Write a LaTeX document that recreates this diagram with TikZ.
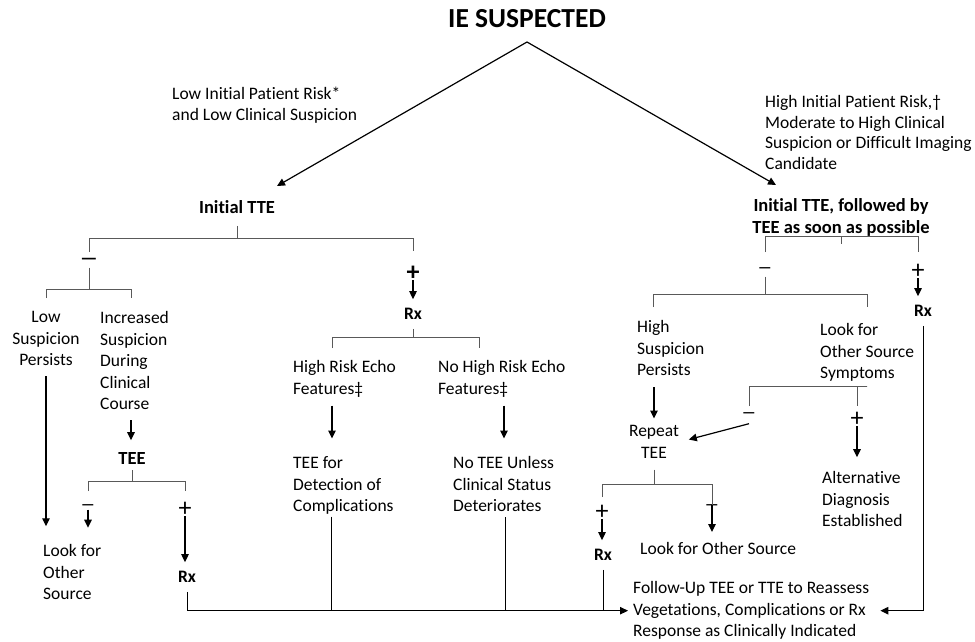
\documentclass[tikz,border=0pt]{standalone}
\usepackage{fontspec}
\setmainfont{Carlito}[Ligatures=NoCommon]
\usetikzlibrary{arrows.meta}

\begin{document}
\begin{tikzpicture}[
    x=1pt, y=-1pt,
    mytext/.style={
        font=\fontsize{17.5}{21.5}\selectfont,
        inner sep=0pt,
        align=left
    },
    myhead/.style={
        font=\fontsize{18.5}{22.5}\selectfont\bfseries,
        inner sep=0pt,
        align=center
    },
    myrx/.style={
        font=\fontsize{17.5}{21}\selectfont\bfseries,
        inner xsep=0pt,
        inner ysep=9pt
    },
    mysign/.style={
        font=\fontsize{26}{26}\selectfont,
        inner sep=0pt,
        text height=18pt,
        text depth=0pt
    },
    myminus/.style={
        font=\fontsize{15}{15}\selectfont\bfseries,
        inner sep=0pt,
        text height=9pt,
        text depth=0pt
    },
    myarrow/.style={
        -{Triangle[length=8pt,width=7.5pt]},
        line width=1.2pt
    },
    mybracket/.style={
        line width=0.8pt,
        draw=black!65
    },
    myline/.style={
        line width=1pt
    }
]
\useasboundingbox (0,0) rectangle (975,641);

% top
\node (title) [font=\fontsize{27.5}{30}\selectfont\bfseries, inner sep=0pt] at (527,18.5) {IE SUSPECTED};
\coordinate (apex) at (527,42);
\node (lowrisk) [mytext, anchor=north west] at (172,86.5) {Low Initial Patient Risk*\\and Low Clinical Suspicion};
\node (highrisk) [mytext, font=\fontsize{17.5}{20.5}\selectfont, anchor=north west] at (765,95.5) {High Initial Patient Risk,†\\Moderate to High Clinical\\Suspicion or Difficult Imaging\\Candidate};
\node (ltte) [myhead] at (237,207) {Initial TTE};
\node (rtte) [myhead, anchor=north] at (841,198) {Initial TTE, followed by\\TEE as soon as possible};
\coordinate (lend) at (277,186);
\coordinate (rend) at (776,185);
\draw [myarrow] (apex) -- (lend);
\draw [myarrow] (apex) -- (rend);

% left branch
\node (lneg) [myminus, font=\fontsize{19}{19}\selectfont\bfseries] at (89,260) {—};
\node (lpos) [mysign, font=\fontsize{26}{26}\selectfont\bfseries] at (413,271) {+};
\node (lrx) [myrx] at (413,314) {Rx};
\draw [mybracket] (ltte.south) ++(0,12) -- ++(0,13) coordinate (ltop);
\draw [mybracket] (lneg |- 0,252) |- (ltop) -| (lpos |- 0,251);
\draw [myarrow] (lpos) -- (lrx);

\node (lowsusp) [mytext, align=center, anchor=north] at (46,311.5) {Low\\Suspicion\\Persists};
\node (incsusp) [mytext, anchor=north west] at (100,311.5) {Increased\\Suspicion\\During\\Clinical\\Course};
\draw [mybracket] (lneg.south) ++(0,3) -- ++(0,22) coordinate (ntop);
\draw [mybracket] (lowsusp.north |- 0,298) |- (ntop) -| (131,298);
\draw [myarrow] (lowsusp.south) ++(0,10) -- ++(0,150);
\draw [myarrow] (incsusp.south -| 131,0) ++(0,10) -- ++(0,20);

\node (tee) [myhead] at (132,458) {TEE};
\node (teeneg) [myminus] at (88,505) {—};
\node (teepos) [mysign] at (185,507) {+};
\node (teerx) [myrx] at (187,577) {Rx};
\node (lookleft) [mytext, anchor=north west] at (43,544.5) {Look for\\Other\\Source};
\draw [mybracket] (tee.south) ++(0,6) -- ++(0,11) coordinate (ttop);
\draw [mybracket] (teeneg |- 0,491) |- (ttop) -| (teepos |- 0,491);
\draw [myarrow] (teeneg.south) -- ++(0,18);
\draw [myarrow] (teepos) -- (teepos |- teerx.north);

% echo features
\node (hiecho) [mytext, anchor=north west] at (293,360.5) {High Risk Echo\\Features‡};
\node (noecho) [mytext, anchor=north west] at (438,360.5) {No High Risk Echo\\Features‡};
\node (teefor) [mytext, anchor=north west] at (293,456.5) {TEE for\\Detection of\\Complications};
\node (noteeunless) [mytext, anchor=north west] at (453,456.5) {No TEE Unless\\Clinical Status\\Deteriorates};
\draw [mybracket] (lrx.south) -- ++(0,9) coordinate (rxtop);
\draw [mybracket] (332,348) |- (rxtop) -| (479,348);
\draw [myarrow] (hiecho.south -| 332,0) ++(0,8) -- ++(0,33);
\draw [myarrow] (noecho.south -| 504,0) ++(0,8) -- ++(0,33);

% right branch
\node (rneg) [myminus] at (765,268) {—};
\node (rpos) [mysign] at (918,269) {+};
\node (rrx) [myrx] at (923,311) {Rx};
\draw [mybracket] (rneg |- 0,252) |- (rtte.south) -| (rpos |- 0,252);
\draw [mybracket] (rtte.south) -- ++(0,7);
\draw [myarrow] (rpos) -- (rpos |- rrx.north);

\node (hisusp) [mytext, anchor=north west] at (637,320.5) {High\\Suspicion\\Persists};
\node (lookother) [mytext, anchor=north west] at (820,323.5) {Look for\\Other Source\\Symptoms};
\draw [mybracket] (rneg.south) ++(0,4) -- ++(0,18) coordinate (rntop);
\draw [mybracket] (653,307) |- (rntop) -| (867,307);

\node (repeat) [mytext, align=center, anchor=north] at (654,425.5) {Repeat\\TEE};
\draw [myarrow, shorten >=7pt] (hisusp.south -| repeat.north) ++(0,11) -- (repeat.north);

\node (oneg) [myminus] at (749,413) {—};
\node (opos) [mysign] at (857,417) {+};
\node (altdx) [mytext, anchor=north west] at (822,471.5) {Alternative\\Diagnosis\\Established};
\draw [mybracket] (oneg |- 0,406) |- ([yshift=-5pt]lookother.south) -| (opos |- 0,406);
\draw [myarrow, shorten >=10pt] ([yshift=-6pt]oneg.south) -- (repeat.east);
\draw [myarrow] (opos.south) -- ++(0,31);

\node (rpos2) [mysign] at (602,510) {+};
\node (rneg2) [myminus] at (712,505) {—};
\node (rrx2) [myrx] at (603,555) {Rx};
\node (lookright) [mytext, anchor=west] at (640,548) {Look for Other Source};
\draw [mybracket] (repeat.south) ++(0,11) -- ++(0,15) coordinate (reptop);
\draw [mybracket] (rpos2 |- 0,497) |- (reptop) -| (rneg2.center);
\draw [myarrow] (rneg2.center) -- ++(0,27);
\draw [myarrow] (rpos2) -- (rpos2 |- rrx2.north);

% follow-up
\node (followup) [mytext, anchor=north west] at (633,581.5) {Follow-Up TEE or TTE to Reassess\\Vegetations, Complications or Rx\\Response as Clinically Indicated};
\coordinate (rail) at (followup.west);
\draw [myarrow, line width=1pt] (teerx.south) |- ([xshift=-5pt]rail);
\draw [myline] (teefor.south -| 331,0) ++(0,2) -- (rail -| 331,0);
\draw [myline] (noteeunless.south -| 505,0) ++(0,5) -- (rail -| 505,0);
\draw [myline] (rrx2.south) -- (rail -| rrx2.south);
\draw [myarrow, line width=1pt] (rrx.south) |- ([xshift=11pt]followup.east);
\end{tikzpicture}
\end{document}
